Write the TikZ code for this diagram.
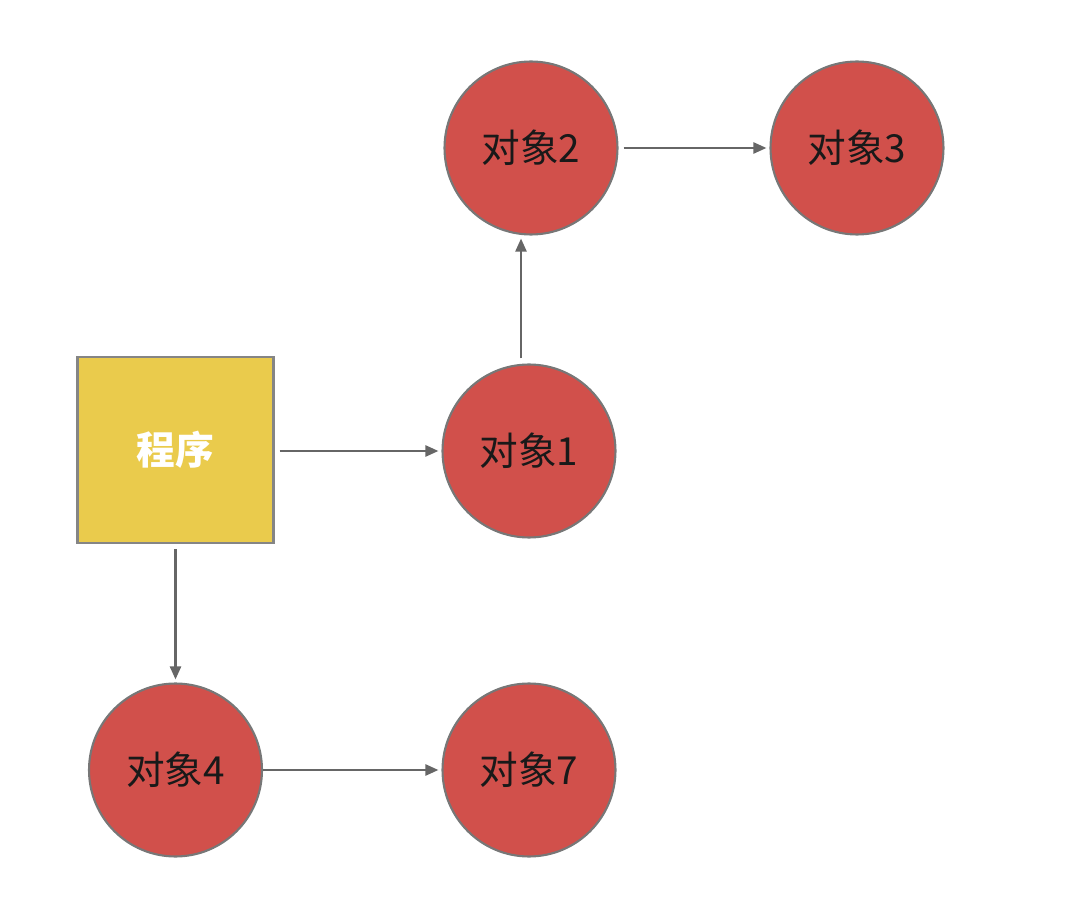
\documentclass[tikz,border=0pt]{standalone}
\usepackage{fontspec}
\newfontfamily\cjk{Noto Sans CJK SC}
\usetikzlibrary{arrows.meta,positioning}
\definecolor{objred}{HTML}{D1504B}
\definecolor{progyellow}{HTML}{EACB4C}
\definecolor{edgegray}{HTML}{777777}
\definecolor{arrgray}{HTML}{666666}

\begin{document}
\begin{tikzpicture}[x=0.02cm, y=-0.02cm,
  font=\cjk\fontsize{22}{26}\selectfont,
  obj/.style={circle, draw=edgegray, line width=1.2pt, fill=objred, minimum size=3.46cm, inner sep=0pt, text=black!90},
  prog/.style={draw=edgegray!90, line width=1.2pt, fill=progyellow, minimum width=3.92cm, minimum height=3.72cm, text=white, font=\cjk\bfseries\fontsize{22}{26}\selectfont},
  arr/.style={-{Triangle[length=2.6mm, width=2.2mm]}, line width=1.3pt, draw=arrgray, shorten <=1mm, shorten >=0.6mm}]
  \useasboundingbox (0,0) rectangle (1080,902);
  \node[prog] (prog) at (175.5,450) {程序};
  \node[obj] (o1) at (529,451) {对象1};
  \node[obj] (o2) at (531,148) {对象2};
  \node[obj] (o3) at (857,148) {对象3};
  \node[obj] (o4) at (175.5,770) {对象4};
  \node[obj] (o7) at (529,770) {对象7};
  \draw[arr] (prog.east |- o1) -- (o1.west);
  \draw[arr] ([xshift=-0.16cm]o1.north) -- ([xshift=-0.16cm]o1.north |- o2.south);
  \draw[arr] (o2) -- (o3);
  \draw[arr] (prog.south) -- (o4.north);
  \draw[arr, shorten <=0pt] (o4) -- (o7);
\end{tikzpicture}
\end{document}
